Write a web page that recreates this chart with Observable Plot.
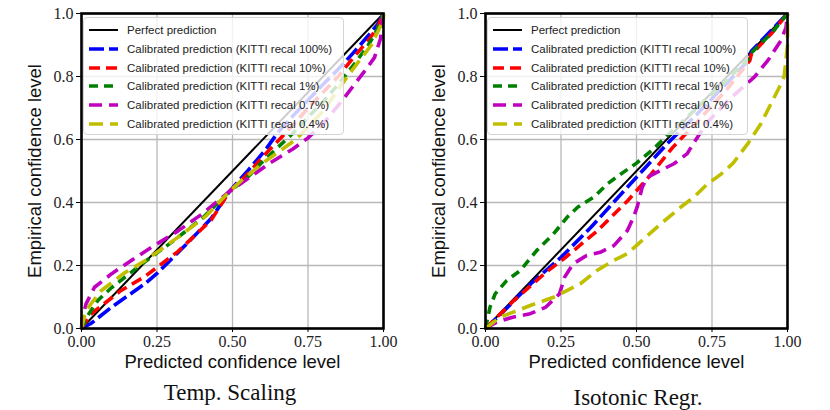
<!DOCTYPE html>
<html><head><meta charset="utf-8">
<script src="https://cdn.jsdelivr.net/npm/d3@7"></script>
<script src="https://cdn.jsdelivr.net/npm/@observablehq/plot@0.6"></script>
<style>
body{margin:0;background:#fff;}
#wrap{position:relative;width:830px;height:410px;overflow:hidden;background:#fff;}
.panel{position:absolute;top:0;}
.title{position:absolute;font-family:"Liberation Serif",serif;font-size:23px;color:#111;transform:translateX(-50%);white-space:nowrap;line-height:1;}
.legend{position:absolute;top:17px;width:259px;height:116px;border:1px solid #d4d4d4;border-radius:4px;background:rgba(255,255,255,0.8);font-family:"Liberation Sans",sans-serif;font-size:11.5px;color:#222;}
.legend .row{position:absolute;left:4px;height:14px;display:flex;align-items:center;white-space:nowrap;}
.legend .row svg{margin-right:8px;}
</style></head><body><div id="wrap"></div>
<script>
// ---- data ----
const seriesLabels = ["Perfect prediction",
  "Calibrated prediction (KITTI recal 100%)",
  "Calibrated prediction (KITTI recal 10%)",
  "Calibrated prediction (KITTI recal 1%)",
  "Calibrated prediction (KITTI recal 0.7%)",
  "Calibrated prediction (KITTI recal 0.4%)"];
const seriesColors = ["#000000", "#0000ff", "#ff0000", "#008000", "#bf00bf", "#bfbf00"];
const seriesDashes = ["none", "15,5", "11,6", "9,6", "13,7", "14,7"];
const panelTitles = ["Temp. Scaling", "Isotonic Regr."];
const xTicks = [0, 0.25, 0.5, 0.75, 1];
const yTicks = [0, 0.2, 0.4, 0.6, 0.8, 1];

const perfect = [[0,0],[1,1]];

// Temp. Scaling
const tsRecal100 = [[0,0],[0.03,0.015],[0.1,0.068],[0.21,0.142],[0.25,0.175],[0.31,0.232],[0.36,0.28],[0.43,0.35],[0.49,0.435],[0.55,0.5],[0.61,0.568],[0.65,0.622],[0.7,0.675],[0.75,0.725],[0.8,0.775],[0.85,0.823],[0.9,0.875],[0.95,0.93],[0.98,0.965],[1,1]];
const tsRecal10 = [[0,0],[0.03,0.045],[0.13,0.12],[0.21,0.165],[0.32,0.245],[0.43,0.345],[0.49,0.435],[0.55,0.49],[0.6,0.545],[0.66,0.605],[0.7,0.645],[0.75,0.7],[0.8,0.75],[0.85,0.8],[0.9,0.86],[0.95,0.915],[0.98,0.955],[1,1]];
const tsRecal1 = [[0,0],[0.02,0.04],[0.055,0.09],[0.1,0.13],[0.2,0.205],[0.3,0.275],[0.4,0.35],[0.49,0.435],[0.55,0.48],[0.6,0.53],[0.7,0.62],[0.8,0.72],[0.85,0.775],[0.9,0.835],[0.95,0.9],[0.98,0.95],[1,1]];
const tsRecal07 = [[0,0],[0.002,0.03],[0.015,0.078],[0.043,0.131],[0.1,0.174],[0.165,0.216],[0.232,0.258],[0.32,0.31],[0.4,0.364],[0.49,0.435],[0.55,0.475],[0.62,0.523],[0.7,0.57],[0.75,0.605],[0.8,0.65],[0.86,0.72],[0.9,0.77],[0.94,0.82],[0.97,0.86],[0.99,0.92],[1,1]];
const tsRecal04 = [[0,0],[0.01,0.04],[0.025,0.07],[0.065,0.12],[0.14,0.175],[0.21,0.215],[0.32,0.29],[0.41,0.355],[0.49,0.435],[0.53,0.47],[0.6,0.525],[0.71,0.6],[0.8,0.69],[0.88,0.8],[0.96,0.9],[1,0.98],[1,1]];

// Isotonic Regr.
const irRecal100 = [[0,0],[0.05,0.045],[0.15,0.142],[0.25,0.226],[0.35,0.322],[0.45,0.428],[0.5,0.48],[0.6,0.585],[0.7,0.68],[0.8,0.78],[0.875,0.855],[0.88,0.88],[0.95,0.95],[1,1]];
const irRecal10 = [[0,0],[0.09,0.085],[0.2,0.178],[0.26,0.222],[0.37,0.31],[0.47,0.405],[0.54,0.48],[0.62,0.575],[0.7,0.655],[0.8,0.76],[0.875,0.85],[0.88,0.87],[0.95,0.94],[1,1]];
const irRecal1 = [[0,0],[0.015,0.068],[0.032,0.11],[0.07,0.152],[0.115,0.184],[0.17,0.248],[0.225,0.3],[0.27,0.353],[0.305,0.385],[0.36,0.418],[0.405,0.46],[0.44,0.485],[0.5,0.525],[0.55,0.565],[0.6,0.61],[0.7,0.7],[0.8,0.79],[0.875,0.86],[0.88,0.875],[0.95,0.94],[1,1]];
const irRecal07 = [[0,0],[0.037,0.02],[0.09,0.036],[0.148,0.047],[0.2,0.068],[0.245,0.11],[0.262,0.163],[0.29,0.205],[0.335,0.232],[0.38,0.242],[0.425,0.263],[0.47,0.311],[0.49,0.353],[0.502,0.385],[0.519,0.449],[0.536,0.48],[0.58,0.502],[0.624,0.523],[0.668,0.555],[0.69,0.59],[0.735,0.655],[0.81,0.73],[0.89,0.798],[0.935,0.851],[0.978,0.914],[0.995,0.955],[1,1]];
const irRecal04 = [[0,0],[0.048,0.036],[0.092,0.052],[0.148,0.073],[0.225,0.099],[0.258,0.115],[0.314,0.142],[0.369,0.184],[0.425,0.216],[0.469,0.237],[0.505,0.268],[0.58,0.332],[0.646,0.385],[0.69,0.417],[0.735,0.459],[0.78,0.49],[0.82,0.525],[0.868,0.586],[0.912,0.65],[0.945,0.713],[0.973,0.766],[0.989,0.8],[1,0.9],[1,1]];

const panels = [
  [perfect, tsRecal100, tsRecal10, tsRecal1, tsRecal07, tsRecal04],
  [perfect, irRecal100, irRecal10, irRecal1, irRecal07, irRecal04]
];

// ---- drawing ----
const wrap = document.getElementById("wrap");
const panelOffsets = [0, 404];
const titleOffsets = [[230, 381], [638, 386]];

panels.forEach((series, p) => {
  const marks = [
    Plot.gridX(xTicks, {stroke: "#b8b8b8", strokeOpacity: 1, strokeWidth: 1.3}),
    Plot.gridY(yTicks, {stroke: "#b8b8b8", strokeOpacity: 1, strokeWidth: 1.3}),
    Plot.axisX(xTicks, {tickFormat: d3.format(".2f"), tickSize: 4, tickPadding: 3, label: null, fontSize: 16, fontFamily: "Liberation Serif", fill: "#222"}),
    Plot.axisY(yTicks, {tickFormat: d3.format(".1f"), tickSize: 5, tickPadding: 3, label: null, fontSize: 16, fontFamily: "Liberation Serif", fill: "#222"}),
  ];
  series.forEach((data, i) => {
    marks.push(Plot.line(data, {
      x: d => d[0], y: d => d[1],
      stroke: seriesColors[i],
      strokeWidth: i === 0 ? 2 : 3.6,
      strokeDasharray: seriesDashes[i],
      strokeLinecap: "butt", strokeLinejoin: "round"
    }));
  });
  marks.push(Plot.frame({stroke: "black", strokeWidth: 2.6}));
  marks.push(Plot.text(["Predicted confidence level"], {frameAnchor: "bottom", dy: 34, textAnchor: "middle", lineAnchor: "middle", fontSize: 18.5, fontFamily: "Liberation Sans", fill: "#111"}));
  marks.push(Plot.text(["Empirical confidence level"], {frameAnchor: "left", dx: -46, rotate: -90, textAnchor: "middle", lineAnchor: "middle", fontSize: 18.5, fontFamily: "Liberation Sans", fill: "#111"}));

  const chart = Plot.plot({
    width: 415, height: 380,
    marginLeft: 81, marginRight: 32, marginTop: 13, marginBottom: 52,
    x: {domain: [0, 1]},
    y: {domain: [0, 1]},
    style: {background: "transparent", overflow: "visible"},
    marks
  });
  const holder = document.createElement("div");
  holder.className = "panel";
  holder.style.left = panelOffsets[p] + "px";
  holder.appendChild(chart);
  wrap.appendChild(holder);

  // legend
  const lg = document.createElement("div");
  lg.className = "legend";
  lg.style.left = (83 + panelOffsets[p]) + "px";
  seriesLabels.forEach((label, i) => {
    const row = document.createElement("div");
    row.className = "row";
    row.style.top = (5 + 18.8 * i) + "px";
    const ns = "http://www.w3.org/2000/svg";
    const sw = document.createElementNS(ns, "svg");
    sw.setAttribute("width", 31); sw.setAttribute("height", 10);
    const ln = document.createElementNS(ns, "line");
    ln.setAttribute("x1", 1); ln.setAttribute("x2", 30);
    ln.setAttribute("y1", 5); ln.setAttribute("y2", 5);
    ln.setAttribute("stroke", seriesColors[i]);
    ln.setAttribute("stroke-width", i === 0 ? 2 : 3.6);
    if (seriesDashes[i] !== "none") ln.setAttribute("stroke-dasharray", seriesDashes[i]);
    sw.appendChild(ln);
    row.appendChild(sw);
    const t = document.createElement("span");
    t.textContent = label;
    row.appendChild(t);
    lg.appendChild(row);
  });
  wrap.appendChild(lg);

  const tt = document.createElement("div");
  tt.className = "title";
  tt.style.left = titleOffsets[p][0] + "px";
  tt.style.top = titleOffsets[p][1] + "px";
  tt.textContent = panelTitles[p];
  wrap.appendChild(tt);
});
</script>
</body></html>
